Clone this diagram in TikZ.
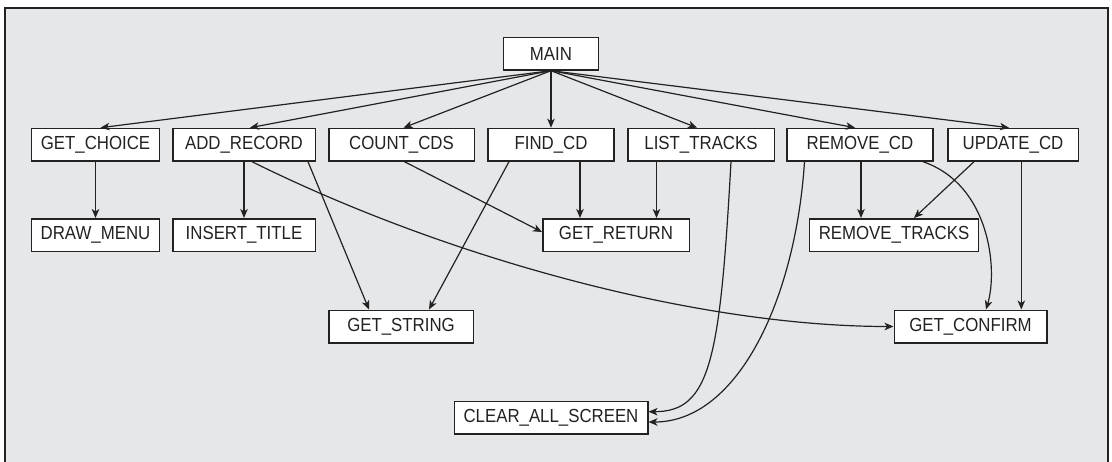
\documentclass[tikz,border=0pt]{standalone}
\usepackage{fontspec}
\newfontfamily\boxfont[FakeStretch=0.89]{Liberation Sans}
\usetikzlibrary{arrows.meta, positioning}
\definecolor{panelgray}{HTML}{E6E7E8}
\definecolor{inkgray}{HTML}{222222}

\begin{document}
\begin{tikzpicture}[x=1pt, y=-1pt,
    fn/.style={draw=inkgray, fill=white, line width=1.5pt, minimum height=32.5pt, inner sep=0pt, align=center, font={\fontsize{18.9}{22}\boxfont}, text=inkgray},
    call/.style={-{Stealth[length=9pt, width=7.5pt, inset=2.5pt]}, line width=1.2pt, draw=inkgray}
]
\useasboundingbox (0,0) rectangle (1112,461);

% Background panel
\draw[line width=1.5pt, draw=inkgray, fill=panelgray] (5,8) rectangle (1108,480);

% Top
\node[fn, minimum width=95.2pt] (main) at (551,53.7) {MAIN};

% Row 1
\node[fn, minimum width=128.1pt] (getchoice) at (95.5,144.7) {GET\_CHOICE};
\node[fn, minimum width=142.5pt] (addrecord) at (244,144.7) {ADD\_RECORD};
\node[fn, minimum width=145.5pt] (countcds) at (401.5,144.7) {COUNT\_CDS};
\node[fn, minimum width=126pt] (findcd) at (551,144.7) {FIND\_CD};
\node[fn, minimum width=146.5pt] (listtracks) at (701,144.7) {LIST\_TRACKS};
\node[fn, minimum width=146pt] (removecd) at (860,144.7) {REMOVE\_CD};
\node[fn, minimum width=130.5pt] (updatecd) at (1013,144.7) {UPDATE\_CD};

% Row 2
\node[fn, minimum width=128pt] (drawmenu) at (95.5,235) {DRAW\_MENU};
\node[fn, minimum width=142.5pt] (inserttitle) at (244,235) {INSERT\_TITLE};
\node[fn, minimum width=146.5pt] (getreturn) at (616,235) {GET\_RETURN};
\node[fn, minimum width=169pt] (removetracks) at (894,235) {REMOVE\_TRACKS};

% Row 3
\node[fn, minimum width=144.5pt] (getstring) at (401,326.5) {GET\_STRING};
\node[fn, minimum width=152.5pt] (getconfirm) at (970.5,326.5) {GET\_CONFIRM};

% Row 4
\node[fn, minimum width=193.5pt] (clearall) at (551,417.5) {CLEAR\_ALL\_SCREEN};

% MAIN calls
\foreach \callee/\dx in {getchoice/5, addrecord/6, countcds/2, findcd/0, listtracks/-4, removecd/-5, updatecd/-4} {
    \draw[call] (main.south) -- ([xshift=\dx pt]\callee.north);
}

% Calls from row 1
\draw[call] (getchoice.south) -- (drawmenu.north);
\draw[call] (addrecord.south) -- (inserttitle.north);
\draw[call] ([xshift=64pt]addrecord.south) -- ([xshift=-32pt]getstring.north);
\draw[call] ([xshift=8pt]addrecord.south) .. controls +(198,98) and +(-194,0) .. (getconfirm.west);
\draw[call] ([xshift=3pt]countcds.south) -- ([yshift=3pt]getreturn.west);
\draw[call] ([xshift=29pt]findcd.south) -- ([xshift=-36pt]getreturn.north);
\draw[call] ([xshift=-42pt]findcd.south) -- ([xshift=28pt]getstring.north);
\draw[call] ([xshift=-44.5pt]listtracks.south) -- ([xshift=40.5pt]getreturn.north);
\draw[call] ([xshift=30pt]listtracks.south) .. controls +(-11,198) and +(62,0) .. ([yshift=5.8pt]clearall.east);
\draw[call] ([xshift=-55.5pt]removecd.south) .. controls +(-9,138) and +(89,0) .. ([yshift=-4.5pt]clearall.east);
\draw[call] ([xshift=1pt]removecd.south) -- ([xshift=-33pt]removetracks.north);
\draw[call] ([xshift=63pt]removecd.south) .. controls +(67,23) and +(12,-40) .. ([xshift=15.5pt]getconfirm.north);
\draw[call] ([xshift=-39pt]updatecd.south) -- ([xshift=20pt]removetracks.north);
\draw[call] ([xshift=8.3pt]updatecd.south) -- ([xshift=50.8pt]getconfirm.north);

\end{tikzpicture}
\end{document}
